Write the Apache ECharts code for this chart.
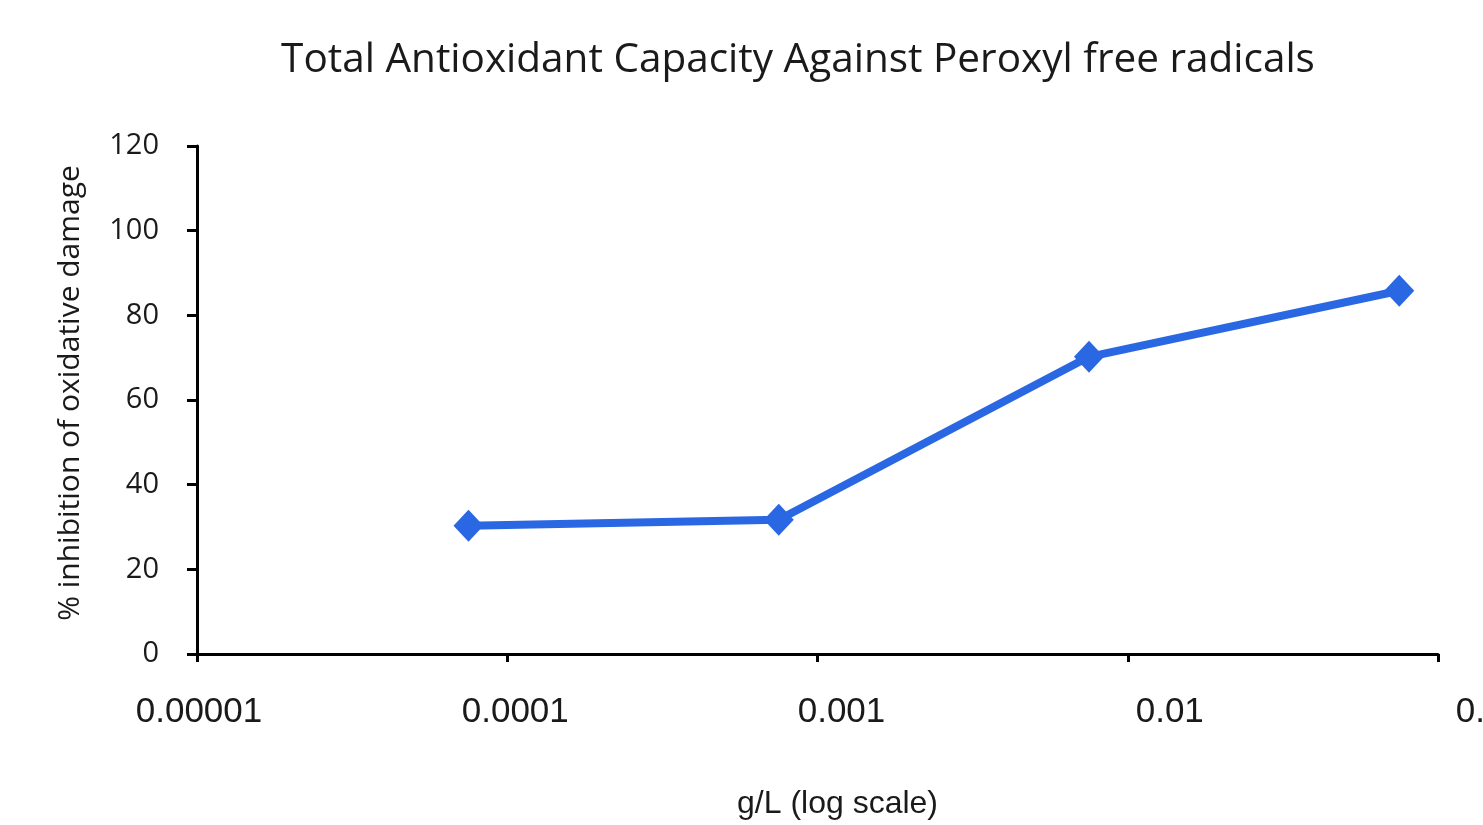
<!DOCTYPE html>
<html>
<head>
<meta charset="utf-8">
<script src="https://cdn.jsdelivr.net/npm/echarts@6/dist/echarts.min.js"></script>
<style>
html,body{margin:0;padding:0;background:#fff;}
#chart{width:1483px;height:825px;}
</style>
</head>
<body>
<div id="chart"></div>
<script>
const concentrations = [0.000075, 0.00075, 0.0075, 0.075];
const inhibition = [30.3, 31.7, 70.2, 85.8];
const xTickLabels = ['0.00001', '0.0001', '0.001', '0.01', '0.1'];
const xLabelShift = [2, 8, 24, 42, 42];

const chart = echarts.init(document.getElementById('chart'));
const rich = {};
xTickLabels.forEach((t, i) => {
  rich['l' + i] = {
    fontFamily: 'Liberation Sans',
    fontSize: 35,
    color: '#1a1a1a',
    padding: [0, 0, 0, xLabelShift[i] * 2]
  };
});

chart.setOption({
  animation: false,
  backgroundColor: '#ffffff',
  title: {
    text: 'Total Antioxidant Capacity Against Peroxyl free radicals',
    left: 793,
    top: 35,
    textAlign: 'center',
    textStyle: { fontFamily: 'Open Sans', fontWeight: 'normal', fontSize: 40.5, color: '#1a1a1a' }
  },
  grid: { left: 197, right: 45, top: 146, bottom: 171, containLabel: false, outerBoundsMode: 'none' },
  xAxis: {
    type: 'log',
    logBase: 10,
    min: 0.00001,
    max: 0.1,
    name: 'g/L (log scale)',
    nameLocation: 'middle',
    nameGap: 134,
    nameTextStyle: { fontFamily: 'Liberation Sans', fontSize: 32, color: '#1a1a1a', padding: [0, 0, 0, 40] },
    axisLine: { show: true, lineStyle: { color: '#000', width: 3 } },
    axisTick: { show: true, length: 8, lineStyle: { color: '#000', width: 3 } },
    minorTick: { show: false },
    splitLine: { show: false },
    axisLabel: {
      margin: 41,
      formatter: function (v) {
        const i = Math.round(Math.log10(v)) + 5;
        return '{l' + i + '|' + xTickLabels[i] + '}';
      },
      rich: rich
    }
  },
  yAxis: {
    type: 'value',
    min: 0,
    max: 120,
    interval: 20,
    name: '% inhibition of oxidative damage',
    nameLocation: 'middle',
    nameGap: 112,
    nameTextStyle: { fontFamily: 'Open Sans', fontSize: 30, color: '#1a1a1a', padding: [0, 0, 0, 14] },
    axisLine: { show: true, lineStyle: { color: '#000', width: 3 } },
    axisTick: { show: true, length: 10, lineStyle: { color: '#000', width: 3 } },
    splitLine: { show: false },
    axisLabel: { margin: 38, fontFamily: 'Open Sans', fontSize: 29, color: '#1a1a1a', lineHeight: 36, padding: [6, 0, 0, 0] }
  },
  series: [{
    type: 'line',
    data: concentrations.map((c, i) => [c, inhibition[i]]),
    symbol: 'diamond',
    symbolSize: [30, 32],
    lineStyle: { color: '#2a67e3', width: 8 },
    itemStyle: { color: '#2a67e3' }
  }]
});
</script>
</body>
</html>
